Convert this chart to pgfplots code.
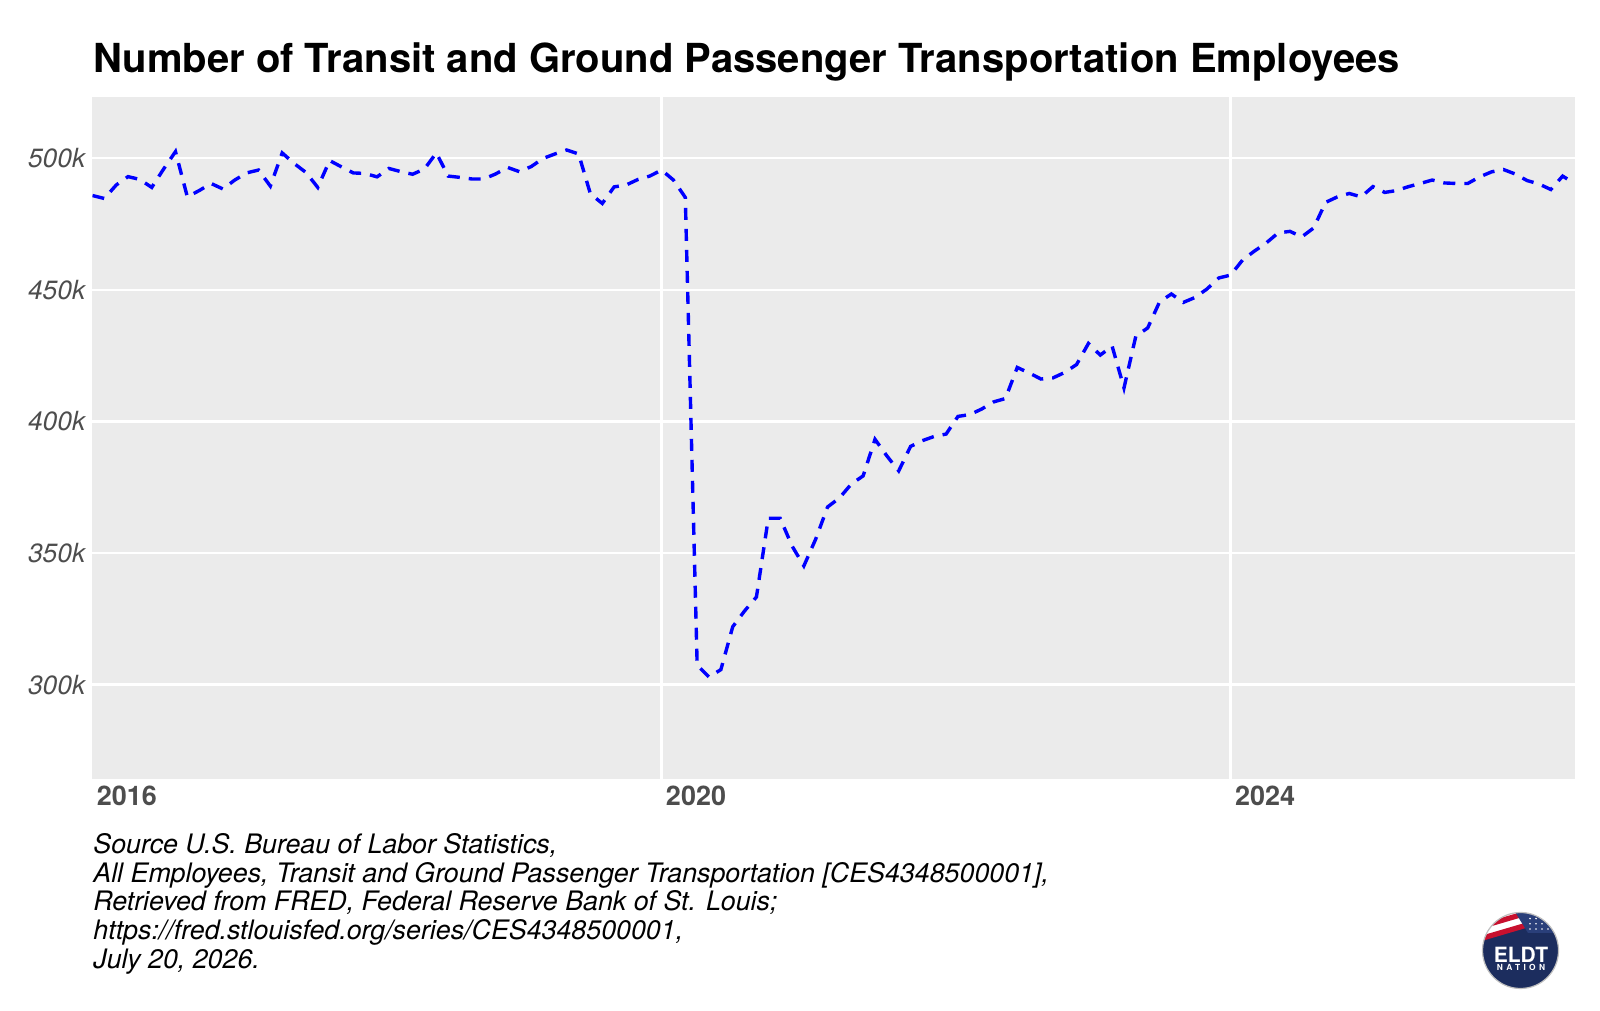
\documentclass[border=0pt]{standalone}
\usepackage{fontspec}
\setmainfont{TeX Gyre Heros}
\usepackage{pgfplots}
\pgfplotsset{compat=1.18}
\usepackage{pgfplotstable}
\definecolor{panelbg}{HTML}{EBEBEB}
\definecolor{tickgray}{HTML}{4D4D4D}
\definecolor{navy}{HTML}{1C2D5E}
\definecolor{starblue}{HTML}{2A3F7A}
\definecolor{flagred}{HTML}{C8102E}

\pgfplotstableread{
m v
0 485.8
1 484.7
2 489.8
3 493.0
4 491.9
5 488.9
6 495.9
7 502.5
8 485.3
9 487.7
10 490.4
11 488.3
12 491.7
13 494.4
14 495.5
15 489.4
16 502.0
17 498.0
18 494.6
19 488.9
20 499.1
21 496.7
22 494.4
23 494.2
24 492.9
25 496.1
26 494.9
27 493.9
28 495.9
29 502.0
30 493.2
31 492.7
32 492.1
33 492.1
34 494.0
35 496.5
36 494.9
37 496.8
38 499.9
39 501.6
40 503.1
41 501.6
42 486.4
43 482.8
44 489.1
45 489.8
46 491.9
47 493.2
48 495.5
49 491.7
50 485.1
51 307.4
52 302.9
53 305.7
54 322.0
55 328.0
56 333.3
57 363.2
58 363.2
59 352.7
60 345.1
61 355.3
62 367.5
63 370.9
64 376.2
65 379.3
66 393.2
67 386.9
68 381.2
69 390.5
70 392.7
71 394.3
72 395.2
73 401.9
74 402.6
75 404.7
76 407.4
77 408.7
78 420.5
79 418.4
80 416.1
81 416.5
82 418.6
83 421.6
84 429.6
85 425.2
86 428.6
87 412.7
88 432.4
89 435.5
90 445.4
91 448.4
92 445.2
93 447.1
94 450.3
95 454.5
96 455.6
97 461.3
98 464.7
99 467.8
100 471.6
101 472.2
102 470.1
103 473.5
104 483.2
105 485.3
106 486.6
107 485.3
108 489.2
109 487.0
110 487.7
111 489.2
112 490.4
113 491.7
114 490.6
115 490.4
116 490.4
117 492.9
118 494.8
119 495.7
120 494.0
121 491.5
122 490.2
123 488.1
124 493.2
125 490.4
}\emp

\begin{document}
\begin{tikzpicture}
\path[use as bounding box] (0,0) rectangle (800pt,505.5pt);
\begin{axis}[
  at={(46.25pt,116.2pt)}, anchor=south west,
  scale only axis, width=741pt, height=340.8pt,
  xmin=0, xmax=125, ymin=264.3, ymax=523.25,
  axis background/.style={fill=panelbg},
  axis line style={draw=none},
  major tick length=0pt,
  xtick={48,96}, xticklabels={2020,2024},
  extra x ticks={0}, extra x tick labels={2016},
  extra x tick style={grid=none},
  ytick={300,350,400,450,500}, yticklabels={300k,350k,400k,450k,500k},
  grid=major, major grid style={white, line width=1.2pt},
  xticklabel style={font=\bfseries\fontsize{13.5}{16}\selectfont, text=tickgray, anchor=north west, inner sep=0pt, xshift=2pt, yshift=-3.7pt},
  yticklabel style={font=\itshape\fontsize{13.2}{16}\selectfont, text=tickgray, anchor=east, inner sep=0pt, xshift=-3.4pt},
]
\addplot[blue, line width=1.7pt, dash pattern=on 6pt off 4.5pt] table[x=m,y=v]{\emp};
\end{axis}

\node[anchor=base west, inner sep=0pt, font=\bfseries\fontsize{20}{24}\selectfont] at (46.5pt,469.25pt) {Number of Transit and Ground Passenger Transportation Employees};

\begin{scope}[every node/.style={anchor=base west, inner sep=0pt, font=\itshape\fontsize{13.4}{14.3}\selectfont}]
\node at (46.5pt,78.6pt) {Source U.S. Bureau of Labor Statistics,};
\node at (46.5pt,64.3pt) {All Employees, Transit and Ground Passenger Transportation [CES4348500001],};
\node at (46.5pt,50.0pt) {Retrieved from FRED, Federal Reserve Bank of St. Louis;};
\node at (46.5pt,35.7pt) {https://fred.stlouisfed.org/series/CES4348500001,};
\node at (46.5pt,21.4pt) {July 20, 2026.};
\end{scope}

% logo
\begin{scope}
  \clip (760.25pt,30.25pt) circle (19pt);
  \fill[navy] (740pt,10pt) rectangle (781pt,51pt);
  \fill[white] (738pt,36pt) -- (772pt,46pt) -- (772pt,52pt) -- (738pt,52pt) -- cycle;
  \draw[flagred, line width=2.6pt] (738pt,35.5pt) -- (772pt,45.5pt);
  \draw[flagred, line width=2.6pt] (738pt,41.5pt) -- (772pt,51.5pt);
  \fill[starblue] (756pt,52pt) -- (764pt,39pt) -- (781pt,39pt) -- (781pt,52pt) -- cycle;
  \foreach \sx in {0,...,5}{\foreach \sy in {0,...,3}{
     \fill[white] (765pt+3pt*\sx,41pt+2.6pt*\sy) circle (0.45pt);}}
\end{scope}
\draw[gray!50, line width=0.6pt] (760.25pt,30.25pt) circle (19pt);
\node[white, inner sep=0pt, font=\bfseries\fontsize{10.5}{12}\selectfont] at (760.5pt,28.3pt) {ELDT};
\node[white, inner sep=0pt, font=\bfseries\fontsize{4.2}{5}\selectfont\addfontfeature{LetterSpace=40}] at (760.5pt,21.7pt) {NATION};
\end{tikzpicture}
\end{document}
